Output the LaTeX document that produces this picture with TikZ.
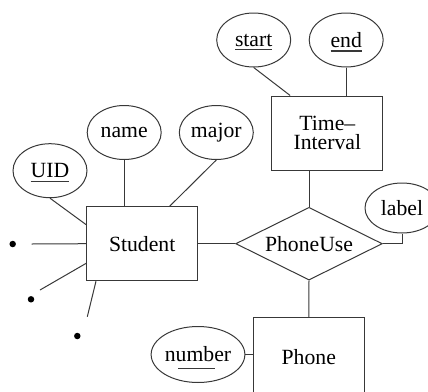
\documentclass[tikz,border=0pt]{standalone}
\usepackage{fontspec}
\setmainfont{Liberation Serif}
\usetikzlibrary{shapes.geometric}
\definecolor{ln}{gray}{0.22}
% underline that adds no depth to the text box
\newsavebox{\ulbox}
\newcommand{\ulx}[1]{\leavevmode\sbox{\ulbox}{#1}\smash{\rlap{\color{ln}\vrule width\wd\ulbox height -3pt depth 4.3pt}}\usebox{\ulbox}}
\begin{document}
\begin{tikzpicture}[x=1pt,y=-1pt,
  lbl/.style={font=\fontsize{21.7}{18.8}\selectfont, text=black},
  entity/.style={draw=ln, line width=1pt, rectangle, inner sep=0pt, lbl},
  attr/.style={draw=ln, line width=1pt, ellipse, minimum width=74pt, minimum height=54pt, inner sep=0pt, lbl},
  rel/.style={draw=ln, line width=1pt, diamond, shape aspect=2, inner sep=0pt, lbl},
  dot/.style={circle, fill=black, inner sep=0pt, minimum size=6.5pt},
  link/.style={draw=ln, line width=1pt}]
\useasboundingbox (0,0) rectangle (428,391);
\clip (0,0) rectangle (428,391);

% entities and relationship
\node[entity, minimum width=111pt, minimum height=74pt] (student) at (142.2,243.7) {Student};
\node[entity, minimum width=111.3pt, minimum height=74pt, align=center] (ti) at (327.3,133) {Time--\\Interval};
\node[rel, minimum width=146.6pt, minimum height=72.7pt] (pu) at (309,243.7) {PhoneUse};
\node[entity, minimum width=111pt, minimum height=78pt] (phone) at (308.8,356.7) {Phone};

% attributes
\node[attr] (uid) at (50,170.7) {\ulx{UID}};
\node[attr] (name) at (124.2,132.5) {name};
\node[attr] (major) at (216.3,132.5) {major};
\node[attr] (start) at (253.7,40) {\ulx{start}};
\node[attr] (end) at (346.2,40) {\ulx{end}};
\node[attr, minimum height=50pt] (label) at (402,208) {label};
\node[attr, minimum height=56pt] (number) at (198,354.5) {number};
\draw[ln, line width=1.4pt] ([xshift=-20pt,yshift=-13.8pt]number.center) -- ++(37,0);

% dangling participants
\node[dot] (d1) at (12.7,244) {};
\node[dot] (d2) at (31,299.3) {};
\node[dot] (d3) at (77.3,336) {};
\coordinate (e1) at (31.7,244);
\coordinate (e2) at (40,290);
\coordinate (e3) at (87.3,316.7);

% connectors
\draw[link] (uid.south) -- ([yshift=19pt]student.west);
\draw[link] (name.south) -- (name.south |- student.north);
\draw[link] (major.south) -- ([xshift=27.5pt]student.north);
\draw[link] (e1) -- (student.west);
\draw[link] (e2) -- ([yshift=-19.6pt]student.west);
\draw[link] (e3) -- ([xshift=-46.2pt]student.south);
\draw[link] (start.south) -- ([xshift=19pt]ti.north west);
\draw[link] (end.south) -- (end.south |- ti.north);
\draw[link] (pu.north |- ti.south) -- (pu.north);
\draw[link] (student.east) -- (pu.west);
\draw[link] (pu.east) -| (label.south);
\draw[link] (pu.south) -- (phone.north);
\draw[link] (number.east) -- (number.east -| phone.west);
\end{tikzpicture}
\end{document}
